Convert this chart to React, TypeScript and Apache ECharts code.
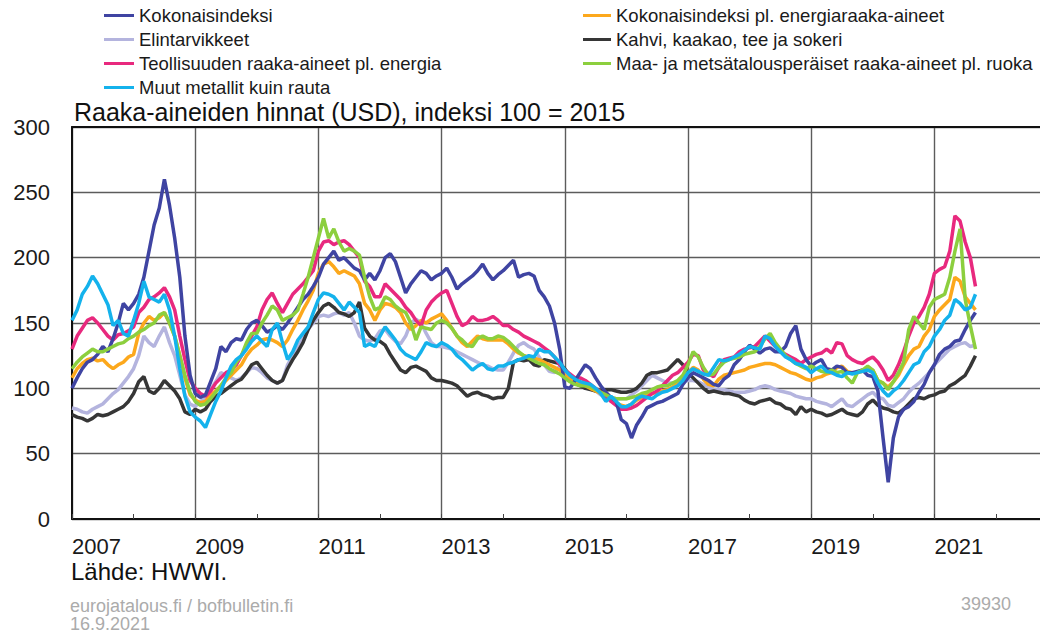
import React, { useEffect, useRef } from "react";
import * as echarts from "echarts";

const START_YEAR = 2007;
const TITLE = "Raaka-aineiden hinnat (USD), indeksi 100 = 2015";
const X_TICK_YEARS = [2007, 2009, 2011, 2013, 2015, 2017, 2019, 2021];
const Y_TICKS = [0, 50, 100, 150, 200, 250, 300];

const NAMES = [
  "Kokonaisindeksi",
  "Elintarvikkeet",
  "Teollisuuden raaka-aineet pl. energia",
  "Muut metallit kuin rauta",
  "Kokonaisindeksi pl. energiaraaka-aineet",
  "Kahvi, kaakao, tee ja sokeri",
  "Maa- ja metsätalousperäiset raaka-aineet pl. ruoka",
];

// Monthly values, Jan 2007 ... Sep 2021
const kokonais = [
  100, 108, 115, 120, 122, 126, 132, 128, 138, 150, 165, 160,
  165, 172, 185, 205, 225, 238, 260, 240, 215, 185, 140, 110,
  96, 93, 95, 105, 115, 132, 128, 135, 138, 137, 145, 150,
  152, 148, 143, 145, 148, 145, 150, 156, 162, 168, 172, 178,
  185, 195, 200, 205, 198, 200, 196, 192, 190, 183, 188, 183,
  190, 200, 203, 197, 185, 173, 180, 185, 190, 188, 183, 186,
  188, 192, 185, 176, 180, 183, 186, 190, 195, 188, 183, 187,
  190, 194, 198, 185, 187, 188, 186, 175, 170, 163, 150, 130,
  101, 100, 106, 112, 118, 115, 108, 102, 97, 93, 90, 76,
  73, 62, 72, 78, 85, 87, 89, 90, 92, 94, 96, 103,
  108, 112, 110, 108, 106, 103, 102, 107, 110, 118, 122, 128,
  133, 130, 127, 130, 131, 128, 128, 132, 142, 148, 130, 122,
  117, 120, 122, 115, 114, 117, 116, 112, 112, 113, 114, 110,
  109, 98, 62, 28, 62, 78, 84, 86, 90, 97, 103, 112,
  118, 126, 130, 132, 136, 137, 145, 152, 158,
];

const elintarvikkeet = [
  85, 84, 82, 81, 84, 86, 88, 92, 96, 99, 104, 109,
  115, 125, 140, 135, 132, 140, 147, 135, 125, 110, 95, 88,
  86, 90, 92, 99, 105, 112, 110, 108, 106, 108, 112, 116,
  115, 112, 108, 106, 104, 106, 118, 125, 132, 138, 145, 150,
  155, 156, 155, 157, 158, 156, 158, 150, 140, 137, 136, 138,
  144, 145, 140, 136, 134, 140, 150, 153, 150, 142, 135, 132,
  132, 131, 130, 128, 126, 124, 122, 120, 118, 117, 115, 114,
  114, 120, 127, 133, 135, 132, 130, 124, 118, 113, 112, 117,
  113, 109, 107, 104, 102, 100, 98, 95, 94, 93, 92, 92,
  92, 95, 98, 102, 106, 110, 108, 106, 104, 104, 105, 106,
  106, 106, 105, 103, 101, 99, 99, 99, 98, 97, 97, 97,
  98, 99, 101, 102, 101, 99, 98, 97, 96, 94, 93, 92,
  92, 90, 89, 88, 86, 89, 92, 87, 86, 89, 92, 95,
  97, 93, 92, 87, 86, 89, 92, 97, 101, 104, 108, 112,
  118, 122, 126, 130, 132, 134, 135, 132, 133,
];

const teollisuus = [
  130, 140, 146, 152, 154, 150, 145, 140, 137, 141, 142, 144,
  147, 158, 162, 168, 170, 173, 177, 170, 160, 140, 122, 106,
  100, 96, 94, 98, 104, 108, 112, 114, 118, 125, 132, 140,
  147, 160, 168, 173, 165, 158, 165, 172, 176, 180, 185, 190,
  205, 212, 213, 210, 212, 213, 210, 205, 200, 182, 178, 170,
  170, 180, 176, 172, 168, 162, 158, 152, 148, 160, 166, 170,
  173, 175, 165, 155, 148, 150, 155, 152, 152, 153, 155, 152,
  148, 148, 145, 143, 140, 138, 136, 134, 131, 128, 124, 118,
  114, 111, 108, 108, 106, 103, 100, 97, 94, 90, 87, 84,
  84, 85, 87, 90, 93, 96, 98, 102, 106, 110, 112, 116,
  120, 126, 125, 114, 111, 109, 116, 122, 123, 124, 128, 130,
  131, 132, 136, 140, 136, 132, 128, 126, 124, 122, 119, 122,
  124, 126, 127, 130, 127, 135, 134, 125, 122, 120, 119, 122,
  124, 120, 114, 106, 110, 118, 128, 140, 150, 155, 162, 172,
  188, 191, 193, 205, 232, 228, 212, 200, 178,
];

const metallit = [
  152, 160, 172, 178, 186, 180, 172, 164, 148, 152, 142, 140,
  152, 165, 182, 170, 168, 166, 172, 160, 140, 115, 94, 82,
  78, 75, 70, 80, 90, 98, 108, 117, 122, 125, 130, 136,
  140, 136, 132, 145, 150, 135, 122, 128, 137, 142, 147, 158,
  168, 173, 172, 170, 165, 160, 166, 162, 158, 132, 134, 132,
  140, 147, 142, 137, 130, 126, 124, 122, 128, 135, 133, 132,
  135, 133, 130, 125, 122, 118, 114, 117, 119, 115, 114, 117,
  117, 119, 120, 122, 123, 125, 124, 130, 128, 128, 124, 120,
  114, 110, 107, 105, 104, 103, 100, 96, 90, 94, 90, 86,
  86, 88, 92, 94, 93, 92, 95, 97, 98, 100, 102, 106,
  112, 115, 113, 111, 110, 116, 122, 121, 122, 124, 126, 129,
  132, 131, 130, 140, 138, 132, 128, 124, 122, 119, 118, 116,
  112, 115, 117, 113, 112, 110, 109, 112, 111, 112, 113, 114,
  112, 104, 98, 94, 98, 101, 106, 112, 118, 120, 128, 132,
  140, 145, 152, 156, 168, 165, 160, 162, 172,
];

const kokonaisPlEnergia = [
  108, 115, 119, 122, 123, 121, 122, 118, 115, 118, 120, 124,
  126, 142, 150, 155, 152, 154, 158, 150, 140, 125, 108, 95,
  91, 89, 90, 95, 98, 102, 106, 110, 114, 118, 125, 130,
  133, 137, 138, 137, 135, 132, 137, 145, 152, 160, 167, 175,
  188, 195, 197, 193, 188, 190, 188, 186, 180, 165, 160, 152,
  160, 165, 164, 162, 158, 150, 145, 148, 152, 150, 153, 155,
  157, 152, 146, 140, 135, 132, 136, 140, 138, 137, 137, 137,
  137, 134, 130, 127, 125, 124, 123, 122, 120, 118, 116, 114,
  110, 107, 105, 103, 102, 100, 98, 96, 93, 91, 89, 87,
  86, 88, 91, 93, 95, 96, 97, 98, 99, 101, 104, 108,
  112, 116, 114, 107, 103, 102, 107, 110, 111, 112, 113, 114,
  116, 117, 118, 119, 119, 118, 116, 114, 112, 111, 109, 107,
  106, 108, 109, 111, 112, 116, 117, 113, 112, 112, 113, 114,
  114, 106, 104, 101, 105, 110, 118, 125, 130, 132, 140, 145,
  155, 160, 164, 168, 185, 182, 170, 165, 160,
];

const kahvi = [
  80, 78, 77, 75, 77, 80, 79, 80, 82, 84, 86, 90,
  96, 105, 109, 98, 96, 100, 106, 102, 98, 92, 82, 80,
  84, 82, 84, 90, 94, 96, 99, 102, 105, 107, 112, 118,
  120, 115, 110, 106, 104, 106, 115, 122, 128, 135, 145, 152,
  158, 163, 165, 162, 158, 157, 155, 158, 166, 146, 140, 137,
  136, 133, 126, 120, 114, 112, 116, 117, 115, 113, 108, 106,
  106, 105, 104, 102, 98, 94, 96, 97, 95, 94, 92, 93,
  93, 100, 120, 122, 121, 122, 118, 117, 122, 121, 120, 119,
  115, 110, 104, 102, 100, 99, 98, 98, 99, 99, 98, 97,
  97, 98, 100, 104, 110, 112, 112, 113, 114, 118, 122, 118,
  112, 108, 104, 100, 97, 98, 97, 96, 96, 95, 94, 91,
  89, 88, 90, 91, 92, 89, 88, 85, 84, 80, 86, 82,
  84, 82, 81, 79, 80, 82, 84, 81, 80, 79, 82, 88,
  91, 87, 85, 84, 82, 81, 84, 88, 92, 93, 92, 94,
  95, 97, 98, 102, 104, 107, 110, 117, 125,
];

const maaMetsa = [
  115, 120, 124, 127, 130, 128, 128, 130, 132, 134, 135, 138,
  140, 143, 145, 148, 150, 156, 158, 150, 140, 125, 110, 97,
  90, 87, 88, 92, 97, 102, 108, 112, 120, 125, 135, 142,
  142, 150, 156, 163, 160, 152, 154, 156, 160, 172, 185, 200,
  215, 230, 215, 222, 212, 205, 207, 205, 202, 185, 170, 160,
  162, 170, 168, 163, 160, 158, 150, 137, 147, 146, 145, 150,
  152, 150, 146, 140, 137, 133, 132, 138, 140, 138, 138, 140,
  139, 136, 132, 128, 125, 123, 121, 119, 118, 115, 113, 111,
  108, 105, 103, 102, 102, 101, 99, 97, 95, 93, 92, 92,
  92, 93, 94, 96, 97, 99, 101, 102, 102, 104, 106, 110,
  118, 128, 124, 116, 110, 111, 116, 120, 122, 123, 124, 126,
  127, 128, 132, 138, 142, 135, 130, 125, 122, 119, 117, 115,
  117, 115, 113, 112, 114, 112, 113, 108, 104, 112, 114, 117,
  114, 106, 104, 99, 105, 112, 120, 145, 155, 150, 145, 162,
  168, 170, 172, 185, 205, 222, 168, 148, 130,
];

const COLORS = {
  kokonais: "#3f44a2",
  elintarvikkeet: "#b4b4de",
  teollisuus: "#e8297e",
  metallit: "#14b2ec",
  kokonaisPlEnergia: "#fca81c",
  kahvi: "#363636",
  maaMetsa: "#8ccf3e",
};

const FONT = "'Liberation Sans', Arial, sans-serif";

export default function App() {
  const ref = useRef<HTMLDivElement>(null);

  useEffect(() => {
    if (!ref.current) return;
    const chart = echarts.init(ref.current, null, { renderer: "svg" });
    const toPts = (arr: number[]) => arr.map((v, i) => [START_YEAR + i / 12, v]);
    const mk = (name: string, arr: number[], color: string) => ({
      name,
      type: "line",
      data: toPts(arr),
      showSymbol: false,
      symbol: "none",
      lineStyle: { color, width: 3.5 },
      itemStyle: { color },
      z: 3,
    });
    const series = [
      mk(NAMES[1], elintarvikkeet, COLORS.elintarvikkeet),
      mk(NAMES[5], kahvi, COLORS.kahvi),
      mk(NAMES[4], kokonaisPlEnergia, COLORS.kokonaisPlEnergia),
      mk(NAMES[2], teollisuus, COLORS.teollisuus),
      mk(NAMES[0], kokonais, COLORS.kokonais),
      mk(NAMES[6], maaMetsa, COLORS.maaMetsa),
      mk(NAMES[3], metallit, COLORS.metallit),
    ];
    const legendCommon = {
      orient: "vertical",
      top: 6,
      itemWidth: 30,
      itemHeight: 3,
      itemGap: 5,
      icon: "rect",
      padding: 0,
      selectedMode: false,
      textStyle: { fontSize: 18.5, color: "#1a1a1a", fontFamily: FONT, lineHeight: 18 },
    };
    const option: any = {
      animation: false,
      backgroundColor: "#ffffff",
      textStyle: { fontFamily: FONT },
      title: {
        text: TITLE,
        left: 74,
        top: 100,
        padding: 0,
        textStyle: { fontSize: 25, lineHeight: 24, fontWeight: "normal", color: "#111", fontFamily: FONT },
      },
      legend: [
        { ...legendCommon, left: 104, data: NAMES.slice(0, 4) },
        { ...legendCommon, left: 583, itemWidth: 28, data: NAMES.slice(4) },
      ],
      grid: {
        left: 72,
        top: 127,
        width: 985.6,
        height: 392,
        containLabel: false,
        outerBoundsMode: "none",
      },
      xAxis: [
        {
          type: "value",
          min: 2007,
          max: 2023,
          interval: 2,
          axisLine: { show: true, onZero: false, lineStyle: { color: "#111", width: 2 } },
          axisTick: { show: true, inside: true, length: 5, lineStyle: { color: "#444" } },
          minorTick: { show: true, splitNumber: 2, length: 5, lineStyle: { color: "#444", width: 1 } },
          splitLine: { show: true, lineStyle: { color: "#5c5c5c", width: 1.4 } },
          axisLabel: {
            show: true,
            showMaxLabel: false,
            align: "left",
            margin: 16,
            fontSize: 22,
            color: "#1a1a1a",
            fontFamily: FONT,
            formatter: (v: number) => (X_TICK_YEARS.includes(Math.round(v)) ? String(Math.round(v)) : ""),
          },
        },
        {
          type: "value",
          position: "top",
          min: 2007,
          max: 2023,
          interval: 2,
          axisLine: { show: true, onZero: false, lineStyle: { color: "#111", width: 2 } },
          axisTick: { show: false },
          axisLabel: { show: false },
          splitLine: { show: false },
        },
      ],
      yAxis: {
        type: "value",
        min: Y_TICKS[0],
        max: Y_TICKS[Y_TICKS.length - 1],
        interval: 50,
        axisLine: { show: true, onZero: false, lineStyle: { color: "#111", width: 2 } },
        axisTick: { show: false },
        splitLine: { show: true, lineStyle: { color: "#5c5c5c", width: 1.4 } },
        axisLabel: { margin: 22, fontSize: 22, color: "#1a1a1a", fontFamily: FONT },
      },
      graphic: [
        {
          type: "text",
          left: 71,
          top: 559,
          style: { text: "Lähde: HWWI.", fontSize: 24, fill: "#111", fontFamily: FONT },
        },
        {
          type: "text",
          left: 70,
          top: 597,
          style: { text: "eurojatalous.fi / bofbulletin.fi", fontSize: 18, fill: "#ababab", fontFamily: FONT },
        },
        {
          type: "text",
          left: 70,
          top: 615,
          style: { text: "16.9.2021", fontSize: 18, fill: "#ababab", fontFamily: FONT },
        },
        {
          type: "text",
          left: 961,
          top: 595,
          style: { text: "39930", fontSize: 18, fill: "#ababab", fontFamily: FONT },
        },
      ],
      series,
    };
    chart.setOption(option);
    return () => chart.dispose();
  }, []);

  return (
    <div
      style={{
        position: "fixed",
        left: 0,
        top: 0,
        width: 1040,
        height: 637,
        overflow: "hidden",
        background: "#ffffff",
      }}
    >
      <div ref={ref} style={{ width: 1060, height: 637 }} />
    </div>
  );
}
